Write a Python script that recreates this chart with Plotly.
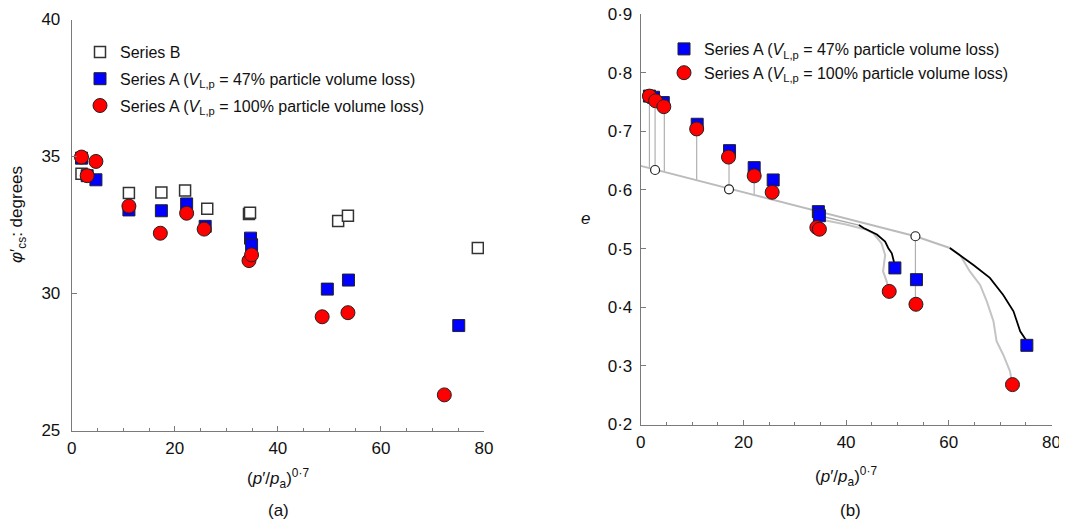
import plotly.graph_objects as go

# ---------------- data ----------------
# Panel (a): friction angle vs (p'/pa)^0.7
xB = [1.9, 11.1, 17.4, 22.0, 26.3, 34.4, 34.6, 51.7, 53.6, 78.8]
phiB = [34.37, 33.67, 33.69, 33.76, 33.09, 32.90, 32.95, 32.65, 32.84, 31.66]

xA47 = [1.9, 3.0, 4.7, 11.1, 17.4, 22.3, 25.9, 34.7, 34.9, 49.6, 53.7, 75.1]
phiA47 = [34.94, 34.30, 34.15, 33.05, 33.02, 33.27, 32.45, 32.02, 31.78, 30.16, 30.49, 28.83]

xA100 = [1.9, 3.0, 4.7, 11.1, 17.2, 22.3, 25.7, 34.4, 34.9, 48.6, 53.6, 72.3]
phiA100 = [34.98, 34.30, 34.82, 33.19, 32.20, 32.93, 32.35, 31.20, 31.41, 29.15, 29.30, 26.30]

# Panel (b): void ratio vs (p'/pa)^0.7
xA47_e = [1.7, 2.5, 4.4, 11.0, 17.3, 22.1, 25.8, 34.6, 34.8, 49.5, 53.7, 75.2]
eA47 = [0.760, 0.758, 0.749, 0.712, 0.667, 0.638, 0.617, 0.563, 0.556, 0.467, 0.447, 0.335]

xA100_e = [1.7, 2.9, 4.5, 10.9, 17.1, 22.1, 25.6, 34.3, 34.8, 48.4, 53.6, 72.4]
eA100 = [0.760, 0.752, 0.742, 0.704, 0.656, 0.624, 0.596, 0.536, 0.533, 0.427, 0.405, 0.268]

x_open = [2.8, 17.2, 53.5]
e_open = [0.634, 0.601, 0.521]

drop_x = [1.7, 2.8, 4.6, 10.9, 17.2, 22.1, 25.7, 53.5]
drop_top = [0.760, 0.752, 0.742, 0.704, 0.656, 0.624, 0.596, 0.521]
drop_bot = [0.637, 0.634, 0.631, 0.617, 0.601, 0.592, 0.583, 0.405]

csl_x = [0.0, 53.5, 60.2, 62.2]
csl_e = [0.641, 0.521, 0.501, 0.489]

lead_x = [34.8, 42.5]
lead_e = [0.556, 0.540]

short_black_x = [42.5, 43.4, 46.0, 47.6, 48.2, 48.9, 49.3, 49.5]
short_black_e = [0.540, 0.535, 0.524, 0.512, 0.501, 0.492, 0.478, 0.467]

short_gray_x = [34.8, 40.0, 44.0, 45.3, 46.9, 47.6, 47.2, 47.9, 48.4]
short_gray_e = [0.550, 0.541, 0.532, 0.526, 0.509, 0.489, 0.461, 0.444, 0.427]

long_black_x = [60.2, 62.2, 64.8, 68.0, 70.6, 72.6, 73.5, 73.9, 75.2, 75.2]
long_black_e = [0.501, 0.489, 0.472, 0.450, 0.421, 0.393, 0.370, 0.359, 0.342, 0.335]

long_gray_x = [62.2, 64.1, 66.1, 67.4, 68.7, 69.3, 70.6, 71.9, 72.4]
long_gray_e = [0.489, 0.461, 0.438, 0.410, 0.376, 0.342, 0.319, 0.291, 0.268]

x_ticks = [0, 20, 40, 60, 80]
phi_ticks = [25, 30, 35, 40]
e_ticks = [0.2, 0.3, 0.4, 0.5, 0.6, 0.7, 0.8, 0.9]
e_ticktext = ["0·2", "0·3", "0·4", "0·5", "0·6", "0·7", "0·8", "0·9"]

LBL47 = "Series A (<i>V</i><sub>L,p</sub> = 47% particle volume loss)"
LBL100 = "Series A (<i>V</i><sub>L,p</sub> = 100% particle volume loss)"

# ---------------- figure ----------------
W, H = 1067, 519
OFF = 8  # page body margin offset of the figure in the screenshot
FONT = "Liberation Sans, Arial, sans-serif"
BLUE, RED, EDGE = "#0000FF", "#FF0000", "#222222"

fig = go.Figure()

# Panel (a)
fig.add_trace(go.Scatter(x=xB, y=phiB, mode="markers", name="Series B",
                         marker=dict(symbol="square", size=11, color="white",
                                     line=dict(color="#333333", width=1.5)),
                         xaxis="x", yaxis="y", legend="legend", legendgroup="b"))
fig.add_trace(go.Scatter(x=xA47, y=phiA47, mode="markers", name=LBL47,
                         marker=dict(symbol="square", size=12, color=BLUE,
                                     line=dict(color=EDGE, width=1)),
                         xaxis="x", yaxis="y", legend="legend", legendgroup="a47"))
fig.add_trace(go.Scatter(x=xA100, y=phiA100, mode="markers", name=LBL100,
                         marker=dict(symbol="circle", size=14, color=RED,
                                     line=dict(color=EDGE, width=1)),
                         xaxis="x", yaxis="y", legend="legend", legendgroup="a100"))

# Panel (b) lines
dx, dy = [], []
for xv, t, b in zip(drop_x, drop_top, drop_bot):
    dx += [xv, xv, None]
    dy += [t, b, None]
fig.add_trace(go.Scatter(x=dx, y=dy, mode="lines", line=dict(color="#B0B0B0", width=1.2),
                         showlegend=False, xaxis="x2", yaxis="y2", hoverinfo="skip"))
fig.add_trace(go.Scatter(x=csl_x, y=csl_e, mode="lines", line=dict(color="#BBBBBB", width=2),
                         showlegend=False, xaxis="x2", yaxis="y2", hoverinfo="skip"))
fig.add_trace(go.Scatter(x=lead_x, y=lead_e, mode="lines", line=dict(color="#AAAAAA", width=1.5),
                         showlegend=False, xaxis="x2", yaxis="y2", hoverinfo="skip"))
fig.add_trace(go.Scatter(x=short_gray_x, y=short_gray_e, mode="lines",
                         line=dict(color="#C4C4C4", width=2),
                         showlegend=False, xaxis="x2", yaxis="y2", hoverinfo="skip"))
fig.add_trace(go.Scatter(x=long_gray_x, y=long_gray_e, mode="lines",
                         line=dict(color="#C4C4C4", width=2),
                         showlegend=False, xaxis="x2", yaxis="y2", hoverinfo="skip"))
fig.add_trace(go.Scatter(x=short_black_x, y=short_black_e, mode="lines",
                         line=dict(color="#000000", width=1.8),
                         showlegend=False, xaxis="x2", yaxis="y2", hoverinfo="skip"))
fig.add_trace(go.Scatter(x=long_black_x, y=long_black_e, mode="lines",
                         line=dict(color="#000000", width=1.8),
                         showlegend=False, xaxis="x2", yaxis="y2", hoverinfo="skip"))
fig.add_trace(go.Scatter(x=x_open, y=e_open, mode="markers",
                         marker=dict(symbol="circle", size=9, color="white",
                                     line=dict(color="#222222", width=1.2)),
                         showlegend=False, xaxis="x2", yaxis="y2"))

# Panel (b) markers
fig.add_trace(go.Scatter(x=xA47_e, y=eA47, mode="markers", name=LBL47,
                         marker=dict(symbol="square", size=12, color=BLUE,
                                     line=dict(color=EDGE, width=1)),
                         xaxis="x2", yaxis="y2", legend="legend2"))
fig.add_trace(go.Scatter(x=xA100_e, y=eA100, mode="markers", name=LBL100,
                         marker=dict(symbol="circle", size=14, color=RED,
                                     line=dict(color=EDGE, width=1)),
                         xaxis="x2", yaxis="y2", legend="legend2"))

def px_x(p):
    return (p - OFF) / W

def px_y(p):
    return 1 - (p - OFF) / H

axis_common = dict(showline=True, linecolor="#7A7A7A", linewidth=1, ticks="inside",
                   ticklen=5, tickcolor="#7A7A7A", showgrid=False, zeroline=False,
                   tickfont=dict(family=FONT, size=17, color="#111111"), mirror=False,
                   automargin=False, ticklabeloverflow="allow")

fig.update_layout(
    width=W, height=H,
    margin=dict(l=0, r=0, t=0, b=0, pad=0, autoexpand=False),
    paper_bgcolor="white", plot_bgcolor="white",
    font=dict(family=FONT, size=16, color="#111111"),
    xaxis=dict(domain=[px_x(71.7), px_x(484)], range=[0, 80], tickvals=x_ticks,
               anchor="y", ticklabelstandoff=2,
               minor=dict(dtick=5, ticks="inside", ticklen=3, tickcolor="#7A7A7A"),
               **axis_common),
    yaxis=dict(domain=[px_y(430.5), px_y(19.5)], range=[25, 40], tickvals=phi_ticks,
               anchor="x", ticklabelstandoff=7, **axis_common),
    xaxis2=dict(domain=[px_x(640.7), px_x(1051.5)], range=[0, 80], tickvals=x_ticks,
                anchor="y2", ticklabelstandoff=2,
                minor=dict(dtick=5, ticks="inside", ticklen=3, tickcolor="#7A7A7A"),
                **axis_common),
    yaxis2=dict(domain=[px_y(424.5), px_y(14)], range=[0.2, 0.9], tickvals=e_ticks,
                ticktext=e_ticktext, anchor="x2", ticklabelstandoff=4, **axis_common),
    legend=dict(x=px_x(80), y=px_y(35), xanchor="left", yanchor="top",
                bgcolor="rgba(0,0,0,0)", borderwidth=0, tracegroupgap=3,
                font=dict(family=FONT, size=16, color="#111111")),
    legend2=dict(x=px_x(664), y=px_y(32), xanchor="left", yanchor="top",
                 bgcolor="rgba(0,0,0,0)", borderwidth=0,
                 font=dict(family=FONT, size=16, color="#111111")),
    showlegend=True,
)

ann_font = dict(family=FONT, size=17, color="#111111")
annotations = [
    dict(text="<i>φ</i>′<sub>cs</sub>: degrees", x=px_x(18), y=px_y(215), textangle=-90),
    dict(text="<i>e</i>", x=px_x(585), y=px_y(218)),
    dict(text="(<i>p</i>′/<i>p</i><sub>a</sub>)<sup>0·7</sup>", x=px_x(278), y=px_y(478)),
    dict(text="(a)", x=px_x(278), y=px_y(510)),
    dict(text="(<i>p</i>′/<i>p</i><sub>a</sub>)<sup>0·7</sup>", x=px_x(846), y=px_y(476)),
    dict(text="(b)", x=px_x(850), y=px_y(510)),
]
for a in annotations:
    fig.add_annotation(xref="paper", yref="paper", showarrow=False,
                       xanchor="center", yanchor="middle", font=ann_font, **a)

fig.write_html("out.html")
